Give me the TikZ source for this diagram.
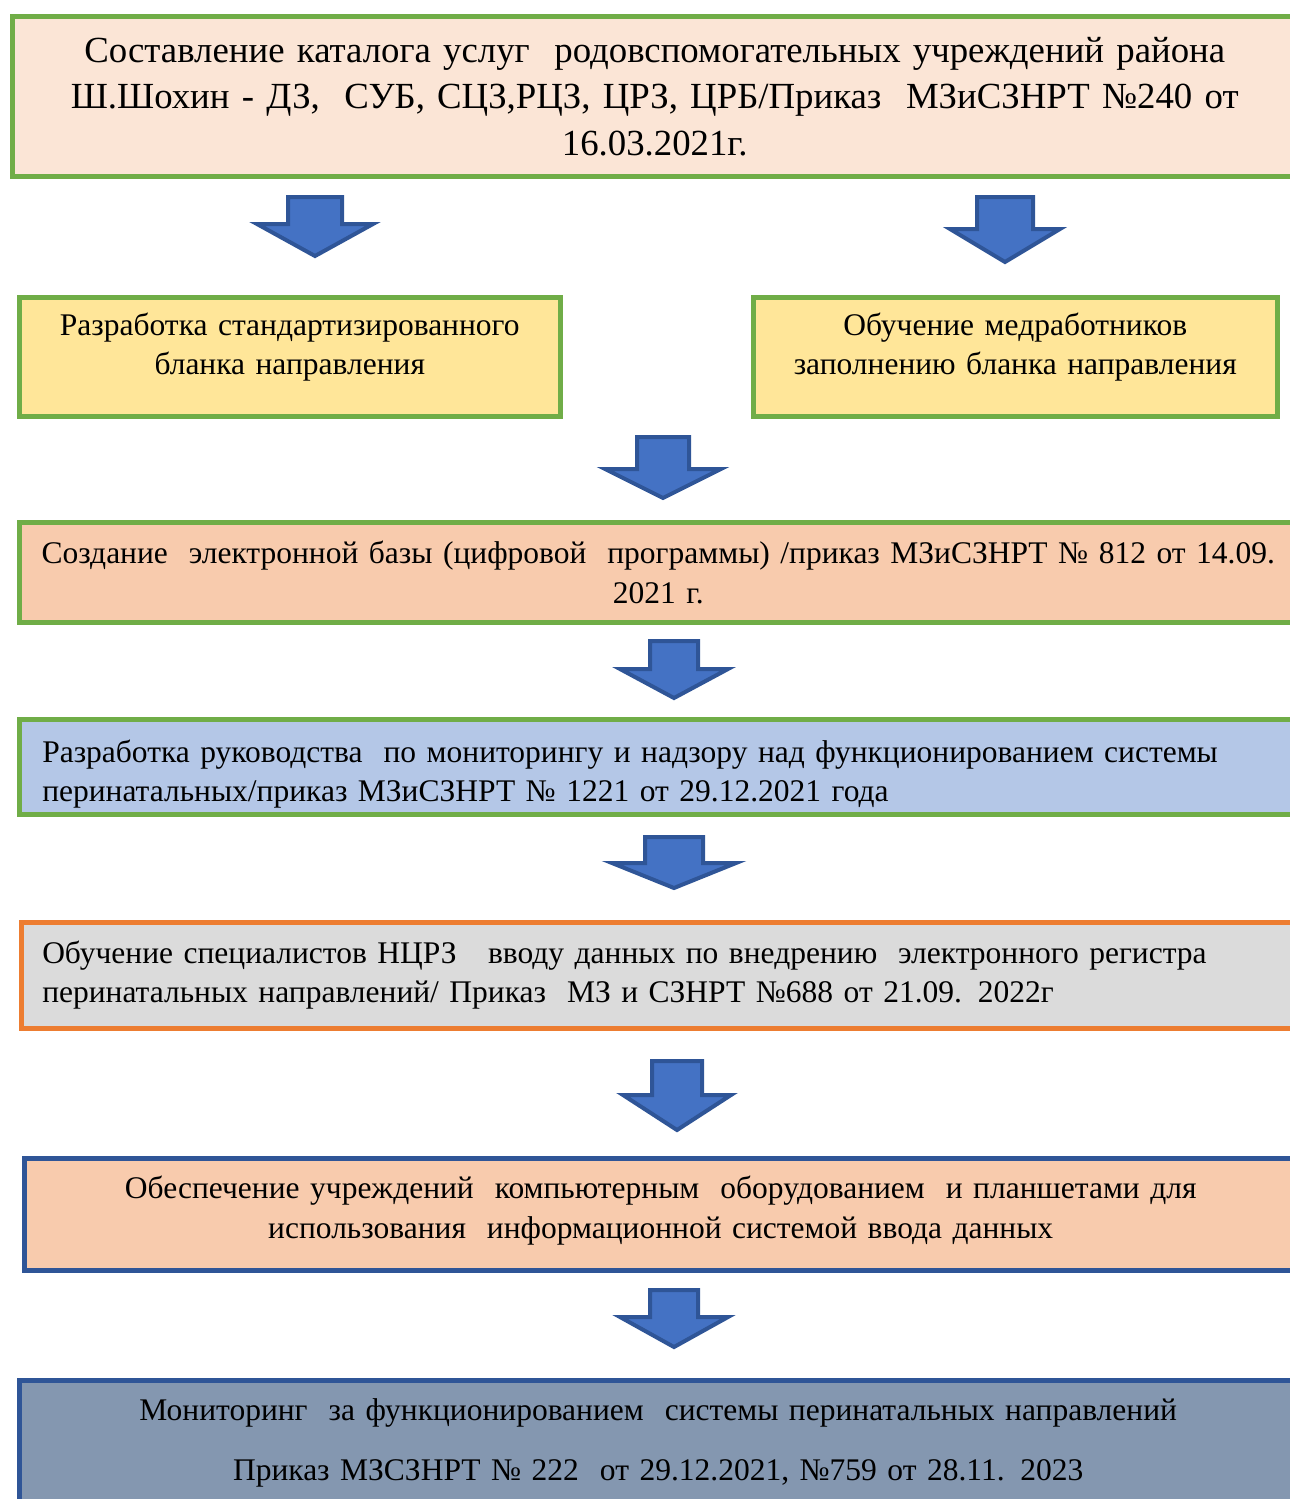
\documentclass[tikz,border=0pt]{standalone}
\usepackage{fontspec}
\setmainfont{Liberation Serif}
\definecolor{boxgreen}{HTML}{70AD47}
\definecolor{boxorange}{HTML}{ED7D31}
\definecolor{boxnavy}{HTML}{2F5597}
\definecolor{fillcream}{HTML}{FBE5D6}
\definecolor{fillyellow}{HTML}{FFE699}
\definecolor{fillpeach}{HTML}{F8CBAD}
\definecolor{fillblue}{HTML}{B4C7E7}
\definecolor{fillgray}{HTML}{DBDBDB}
\definecolor{fillslate}{HTML}{8497B0}
\definecolor{arrowfill}{HTML}{4472C4}
\tikzset{
  stagebox/.style={draw=boxgreen, line width=4.5pt, anchor=north west, inner ysep=0pt,
    font=\fontsize{31.5}{39.5}\selectfont},
  arrowblock/.style={fill=arrowfill, draw=boxnavy, line width=4pt, line join=miter}
}
% block arrow: centre x, top y, head start y, half shaft, half head, tip y
\newcommand{\blockarrow}[6]{%
  \filldraw[arrowblock] (#1-#4,#2) -- (#1+#4,#2) -- (#1+#4,#3) -- (#1+#5,#3)
    -- (#1,#6) -- (#1-#5,#3) -- (#1-#4,#3) -- cycle;}
\begin{document}
\begin{tikzpicture}[x=1pt, y=-1pt]
  \useasboundingbox (0,0) rectangle (1290,1499);
  \clip (0,0) rectangle (1290,1499);

  \node[stagebox, fill=fillcream, minimum width=1285, minimum height=160, text width=1260,
    align=center, font=\fontsize{36.8}{46.5}\selectfont] (catalog) at (10,14)
    {Составление каталога услуг\ \ родовспомогательных учреждений района\\
     Ш.Шохин - ДЗ,\ \ СУБ, СЦЗ,РЦЗ, ЦРЗ, ЦРБ/Приказ\ \ МЗиСЗНРТ №240 от\\
     16.03.2021г.};

  \node[stagebox, fill=fillyellow, minimum width=541, minimum height=119, text width=520,
    text depth=66, align=center] (blank) at (17,295)
    {Разработка стандартизированного\\ бланка направления};
  \node[stagebox, fill=fillyellow, minimum width=524, minimum height=119, text width=505,
    text depth=66, align=center] (training) at (751,295)
    {Обучение медработников\\ заполнению бланка направления};

  \node[stagebox, fill=fillpeach, minimum width=1278, minimum height=100, text width=1256,
    align=center] (database) at (17,520)
    {Создание\ \ электронной базы (цифровой\ \ программы) /приказ МЗиСЗНРТ № 812 от 14.09.\\
     2021 г.};

  \node[stagebox, fill=fillblue, minimum width=1278, minimum height=95, text width=1232,
    inner xsep=23, text depth=32, align=left] (guide) at (17,717)
    {Разработка руководства\ \ по мониторингу и надзору над функционированием системы\\
     перинатальных/приказ МЗиСЗНРТ № 1221 от 29.12.2021 года};

  \node[stagebox, draw=boxorange, fill=fillgray, minimum width=1276, minimum height=106,
    text width=1234, inner xsep=21, align=left] (specialists) at (19,920)
    {Обучение специалистов НЦРЗ\ \ \ вводу данных по внедрению\ \ электронного регистра\\
     перинатальных направлений/ Приказ\ \ МЗ и СЗНРТ №688 от 21.09. 2022г};

  \node[stagebox, draw=boxnavy, fill=fillpeach, minimum width=1273, minimum height=112,
    text width=1240, text depth=54, align=center] (equipment) at (22,1156)
    {Обеспечение учреждений\ \ компьютерным\ \ оборудованием\ \ и планшетами для\\
     использования\ \ информационной системой ввода данных};

  \node[stagebox, draw=boxnavy, fill=fillslate, minimum width=1278, minimum height=126,
    text width=1250, align=center, font=\fontsize{31.5}{60}\selectfont] (monitoring) at (17,1378)
    {Мониторинг\ \ за функционированием\ \ системы перинатальных направлений\\
     Приказ МЗСЗНРТ № 222\ \ от 29.12.2021, №759 от 28.11. 2023};

  \blockarrow{315}{197}{224}{27}{58}{256}
  \blockarrow{1005}{197}{229}{28}{55}{262}
  \blockarrow{663}{437}{469}{26}{58}{498}
  \blockarrow{674}{641}{669}{24}{54}{698}
  \blockarrow{674}{837}{863}{29}{62}{888}
  \blockarrow{677}{1061}{1095}{25}{54}{1130}
  \blockarrow{674}{1290}{1317}{24}{54}{1347}
\end{tikzpicture}
\end{document}
